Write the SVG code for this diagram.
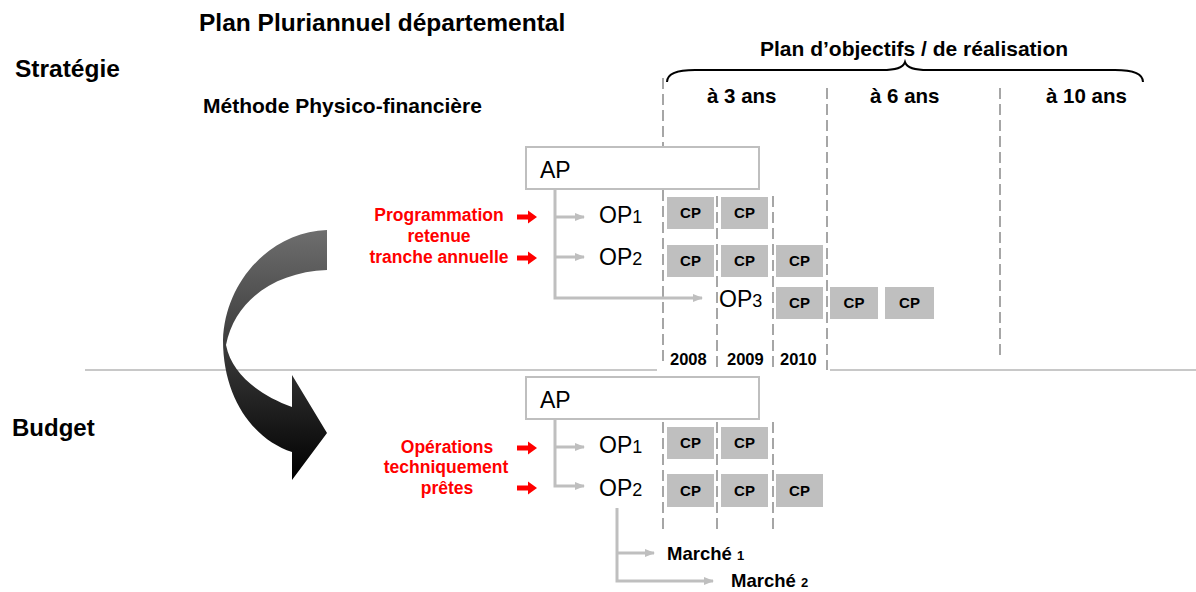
<svg xmlns="http://www.w3.org/2000/svg" width="1196" height="592" viewBox="0 0 1196 592">
<style>
.lbl{font-family:"Liberation Sans",Arial,sans-serif;fill:#000}
.b{font-weight:bold}
.red{font-family:"Liberation Sans",Arial,sans-serif;font-weight:bold;fill:#ff0000;font-size:17.5px;text-anchor:middle}
.op{font-family:"Liberation Sans",Arial,sans-serif;font-size:23px;fill:#000}
.cpbox{fill:#bfbfbf}
.cpt{font-family:"Liberation Sans",Arial,sans-serif;font-weight:bold;font-size:15px;fill:#000;text-anchor:middle}
.ap{fill:#fff;stroke:#bfbfbf;stroke-width:2}
.conn{fill:none;stroke:#bfbfbf;stroke-width:3}
.dash{fill:none;stroke:#a6a6a6;stroke-width:2;stroke-dasharray:11 5}
.sep{fill:none;stroke:#c8c8c8;stroke-width:2}
</style>
<defs>
<marker id="gh" markerWidth="10" markerHeight="8" refX="9" refY="4" orient="auto" markerUnits="userSpaceOnUse">
<path d="M0,0 L10,4 L0,8 Z" fill="#bfbfbf"/>
</marker>
<linearGradient id="cg" x1="0" y1="0" x2="0" y2="1">
<stop offset="0" stop-color="#6e6e6e"/>
<stop offset="1" stop-color="#000"/>
</linearGradient>
<path id="redarrow" d="M0,-2.5 L11,-2.5 L11,-6.5 L20,0 L11,6.5 L11,2.5 L0,2.5 Z" fill="#ff0000"/>
</defs>

<!-- headings -->
<g id="titles">
<text class="lbl b" x="199" y="31" font-size="24.5">Plan Pluriannuel départemental</text>
<text class="lbl b" x="15" y="77" font-size="24.5">Stratégie</text>
<text class="lbl b" x="12" y="436" font-size="24">Budget</text>
<text class="lbl b" x="203" y="113" font-size="21">Méthode Physico-financière</text>
<text class="lbl b" x="760" y="56" font-size="21">Plan d’objectifs / de réalisation</text>
<text class="lbl b" x="707" y="103" font-size="20.5">à 3 ans</text>
<text class="lbl b" x="870" y="103" font-size="20.5">à 6 ans</text>
<text class="lbl b" x="1046" y="103" font-size="20.5">à 10 ans</text>
</g>

<!-- brace -->
<path id="brace" d="M667,82 C667,74 675,70 695,70 L882,70 C896,70 903,68 905,62 C907,68 914,70 928,70 L1115,70 C1135,70 1143,74 1143,82" fill="none" stroke="#000" stroke-width="2"/>

<!-- separators and timeline -->
<g id="grid">
<line class="sep" x1="85" y1="370" x2="657" y2="370"/>
<line class="sep" x1="830" y1="370" x2="1196" y2="370"/>
<line class="dash" x1="663" y1="78" x2="663" y2="364"/>
<line class="dash" x1="717" y1="196" x2="717" y2="370"/>
<line class="dash" x1="773" y1="196" x2="773" y2="370"/>
<line class="dash" x1="827" y1="88" x2="827" y2="370"/>
<line class="dash" x1="1000" y1="88" x2="1000" y2="356"/>
<line class="dash" x1="663" y1="422" x2="663" y2="532"/>
<line class="dash" x1="717" y1="422" x2="717" y2="532"/>
<line class="dash" x1="773" y1="422" x2="773" y2="532"/>
<text class="lbl b" x="670" y="365" font-size="16.5">2008</text>
<text class="lbl b" x="727" y="365" font-size="16.5">2009</text>
<text class="lbl b" x="780" y="365" font-size="16.5">2010</text>
</g>

<!-- curved arrow -->
<path id="bigarrow" d="M327,230 C270,232 225,282 223,340 C223,400 255,440 292,452 L292,480 L327,433 L292,375 L292,407 C260,395 232,375 226,345 C235,300 275,272 327,270 Z" fill="url(#cg)"/>

<!-- connectors -->
<g id="connectors">
<path class="conn" d="M555,189 L555,298 L702,298" marker-end="url(#gh)"/>
<path class="conn" d="M555,217 L584,217" marker-end="url(#gh)"/>
<path class="conn" d="M555,257 L584,257" marker-end="url(#gh)"/>
<path class="conn" d="M555,419 L555,486 L584,486" marker-end="url(#gh)"/>
<path class="conn" d="M555,447 L584,447" marker-end="url(#gh)"/>
<path class="conn" d="M617,508 L617,581 L713,581" marker-end="url(#gh)"/>
<path class="conn" d="M617,553 L654,553" marker-end="url(#gh)"/>
<use href="#redarrow" x="517" y="217"/>
<use href="#redarrow" x="517" y="258"/>
<use href="#redarrow" x="517" y="448"/>
<use href="#redarrow" x="517" y="488"/>
</g>

<!-- red labels -->
<g id="red-top">
<text class="red" x="439" y="221">Programmation</text>
<text class="red" x="439" y="242">retenue</text>
<text class="red" x="439" y="263">tranche annuelle</text>
</g>
<g id="red-bottom">
<text class="red" x="447" y="453">Opérations</text>
<text class="red" x="446" y="473">techniquement</text>
<text class="red" x="447" y="494">prêtes</text>
</g>

<!-- top AP -->
<g id="ap-top">
<rect class="ap" x="526" y="147" width="233" height="42"/>
<text class="op" x="540" y="178">AP</text>
</g>
<g id="op1-top"><text class="op" x="599" y="223">OP<tspan font-size="18">1</tspan></text></g>
<g id="op2-top"><text class="op" x="599" y="265">OP<tspan font-size="18">2</tspan></text></g>
<g id="op3-top"><text class="op" x="719" y="307">OP<tspan font-size="18">3</tspan></text></g>

<g id="cp-top">
<rect class="cpbox" x="667" y="197" width="47" height="32"/><text class="cpt" x="690.5" y="218">CP</text>
<rect class="cpbox" x="721" y="197" width="47" height="32"/><text class="cpt" x="744.5" y="218">CP</text>
<rect class="cpbox" x="667" y="245" width="47" height="32"/><text class="cpt" x="690.5" y="266">CP</text>
<rect class="cpbox" x="721" y="245" width="47" height="32"/><text class="cpt" x="744.5" y="266">CP</text>
<rect class="cpbox" x="776" y="245" width="47" height="32"/><text class="cpt" x="799.5" y="266">CP</text>
<rect class="cpbox" x="776" y="287" width="47" height="32"/><text class="cpt" x="799.5" y="308">CP</text>
<rect class="cpbox" x="830" y="287" width="48" height="32"/><text class="cpt" x="854" y="308">CP</text>
<rect class="cpbox" x="885" y="287" width="49" height="32"/><text class="cpt" x="909.5" y="308">CP</text>
</g>

<!-- bottom AP -->
<g id="ap-bottom">
<rect class="ap" x="526" y="377" width="233" height="42"/>
<text class="op" x="540" y="408">AP</text>
</g>
<g id="op1-bottom"><text class="op" x="599" y="453">OP<tspan font-size="18">1</tspan></text></g>
<g id="op2-bottom"><text class="op" x="599" y="496">OP<tspan font-size="18">2</tspan></text></g>

<g id="cp-bottom">
<rect class="cpbox" x="667" y="427" width="47" height="32"/><text class="cpt" x="690.5" y="448">CP</text>
<rect class="cpbox" x="721" y="427" width="47" height="32"/><text class="cpt" x="744.5" y="448">CP</text>
<rect class="cpbox" x="667" y="474" width="47" height="33"/><text class="cpt" x="690.5" y="496">CP</text>
<rect class="cpbox" x="721" y="474" width="47" height="33"/><text class="cpt" x="744.5" y="496">CP</text>
<rect class="cpbox" x="776" y="474" width="47" height="33"/><text class="cpt" x="799.5" y="496">CP</text>
</g>

<g id="marche1"><text class="lbl b" x="667" y="560" font-size="18.5">Marché <tspan font-size="13">1</tspan></text></g>
<g id="marche2"><text class="lbl b" x="731" y="587" font-size="18.5">Marché <tspan font-size="13">2</tspan></text></g>
</svg>
